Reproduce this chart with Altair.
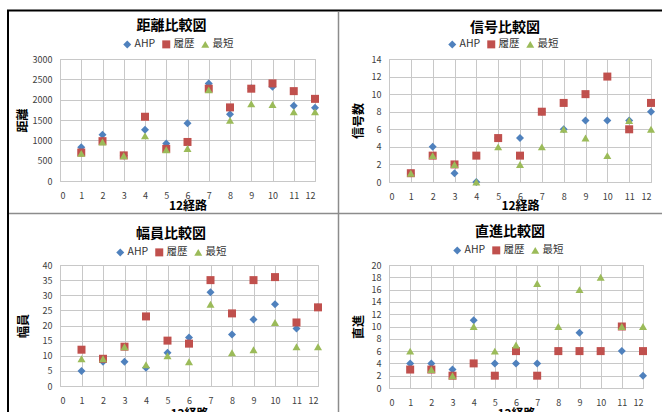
import altair as alt
import pandas as pd

routes = list(range(1, 13))
series_names = ["AHP", "履歴", "最短"]
series_colors = ["#4F81BD", "#C0504D", "#9BBB59"]
series_shapes = ["diamond", "square", "triangle-up"]

dist_ahp = [830, 1140, 630, 1260, 920, 1420, 2400, 1640, 2280, 2320, 1850, 1800]
dist_hist = [700, 980, 630, 1580, 790, 960, 2270, 1810, 2270, 2400, 2210, 2020]
dist_short = [680, 960, 620, 1110, 770, 800, 2240, 1490, 1900, 1880, 1700, 1700]

sig_ahp = [1, 4, 1, 0, 5, 5, 8, 6, 7, 7, 7, 8]
sig_hist = [1, 3, 2, 3, 5, 3, 8, 9, 10, 12, 6, 9]
sig_short = [1, 3, 2, 0, 4, 2, 4, 6, 5, 3, 7, 6]

wid_ahp = [5, 8, 8, 6, 11, 16, 31, 17, 22, 27, 19, 26]
wid_hist = [12, 9, 13, 23, 15, 14, 35, 24, 35, 36, 21, 26]
wid_short = [9, 9, 13, 7, 10, 8, 27, 11, 12, 21, 13, 13]

str_ahp = [4, 4, 3, 11, 4, 4, 4, 6, 9, 6, 6, 2]
str_hist = [3, 3, 2, 4, 2, 6, 2, 6, 6, 6, 10, 6]
str_short = [6, 3, 2, 10, 6, 7, 17, 10, 16, 18, 10, 10]

x_ticks = list(range(0, 13))
FONT = "Noto Sans CJK JP"


def panel(title, ytitle, a, h, s, ymax, ystep, w, ht, title_dx, title_dy,
          ytitle_x, xtitle_y, leg_x, leg_y):
    df = pd.DataFrame({
        "route": routes * 3,
        "value": a + h + s,
        "series": [series_names[0]] * 12 + [series_names[1]] * 12 + [series_names[2]] * 12,
    })
    leg = alt.Legend(orient="none", legendX=leg_x, legendY=leg_y, direction="horizontal",
                     title=None, symbolSize=64, columnPadding=5, labelOffset=2,
                     padding=0, symbolStrokeWidth=0, symbolOpacity=1)
    yvals = list(range(0, ymax + 1, ystep))
    return alt.Chart(df).mark_point(filled=True, size=64, opacity=1, strokeWidth=0).encode(
        x=alt.X("route:Q", scale=alt.Scale(domain=[0, 12], nice=False, zero=True),
                axis=alt.Axis(values=x_ticks, title="12経路", titleX=w / 2, titleY=xtitle_y,
                              titleBaseline="middle", titleAlign="center", labelPadding=10,
                              format="d")),
        y=alt.Y("value:Q", scale=alt.Scale(domain=[0, ymax], nice=False),
                axis=alt.Axis(values=yvals, title=ytitle, titleAngle=270, titleX=ytitle_x,
                              titleY=ht / 2, titleAlign="center", titleBaseline="middle",
                              labelPadding=8, format="d")),
        color=alt.Color("series:N", scale=alt.Scale(domain=series_names, range=series_colors),
                        legend=leg),
        shape=alt.Shape("series:N", scale=alt.Scale(domain=series_names, range=series_shapes),
                        legend=leg),
    ).properties(width=w, height=ht,
                 title=alt.TitleParams(title, anchor="middle", dx=title_dx, dy=title_dy))


p1 = panel("距離比較図", "距離", dist_ahp, dist_hist, dist_short, 3000, 500,
           255, 122, -16, 28, -38, 24, 62, -20)
p2 = panel("信号比較図", "信号数", sig_ahp, sig_hist, sig_short, 14, 2,
           262, 123, -15, 0, -31, 23, 58, -20)
p3 = panel("幅員比較図", "幅員", wid_ahp, wid_hist, wid_short, 40, 5,
           258, 121, -18, -2, -37, 27, 55, -18)
p4 = panel("直進比較図", "直進", str_ahp, str_hist, str_short, 20, 2,
           254, 123, -6, -2, -31, 25, 63, -20)

# frame lines of the original spreadsheet screenshot (pixel offsets from panel 1 origin)
frame = alt.Chart(pd.DataFrame({"k": [0]}))
top_line = frame.mark_rule(color="black", strokeWidth=2).encode(
    x=alt.value(-53), x2=alt.value(602), y=alt.value(-48.5))
left_line = frame.mark_rule(color="black", strokeWidth=2).encode(
    x=alt.value(-52), y=alt.value(-49), y2=alt.value(353))
vsep = frame.mark_rule(color="#8C8C8C", strokeWidth=1.5).encode(
    x=alt.value(278.5), y=alt.value(-47.5), y2=alt.value(353))
hsep = frame.mark_rule(color="#8C8C8C", strokeWidth=1.5).encode(
    x=alt.value(-51), x2=alt.value(602), y=alt.value(154.5))

p1_full = alt.layer(p1, top_line, left_line, vsep, hsep)

chart = alt.concat(
    p1_full, p2, p3, p4, columns=2, spacing={"row": 83, "column": 71}, bounds="flush"
).resolve_scale(
    color="independent", shape="independent"
).resolve_legend(
    color="independent", shape="independent"
).properties(
    autosize=alt.AutoSizeParams(type="none"),
    padding={"left": 60, "top": 59, "right": 602, "bottom": 353},
).configure_view(
    stroke="#BFBFBF", strokeWidth=1
).configure_axis(
    grid=True, gridColor="#C8C8C8", gridWidth=1, domain=False, ticks=False,
    labelFont=FONT, labelFontSize=9, labelColor="#404040",
    titleFont=FONT, titleFontSize=12, titleFontWeight="bold", titleColor="#000000",
).configure_legend(
    labelFont=FONT, labelFontSize=10.5, labelColor="#333333",
).configure_title(
    font=FONT, fontSize=14, fontWeight="bold", color="#000000",
)

chart.save("out.html", embed_options={"renderer": "svg", "actions": False})
